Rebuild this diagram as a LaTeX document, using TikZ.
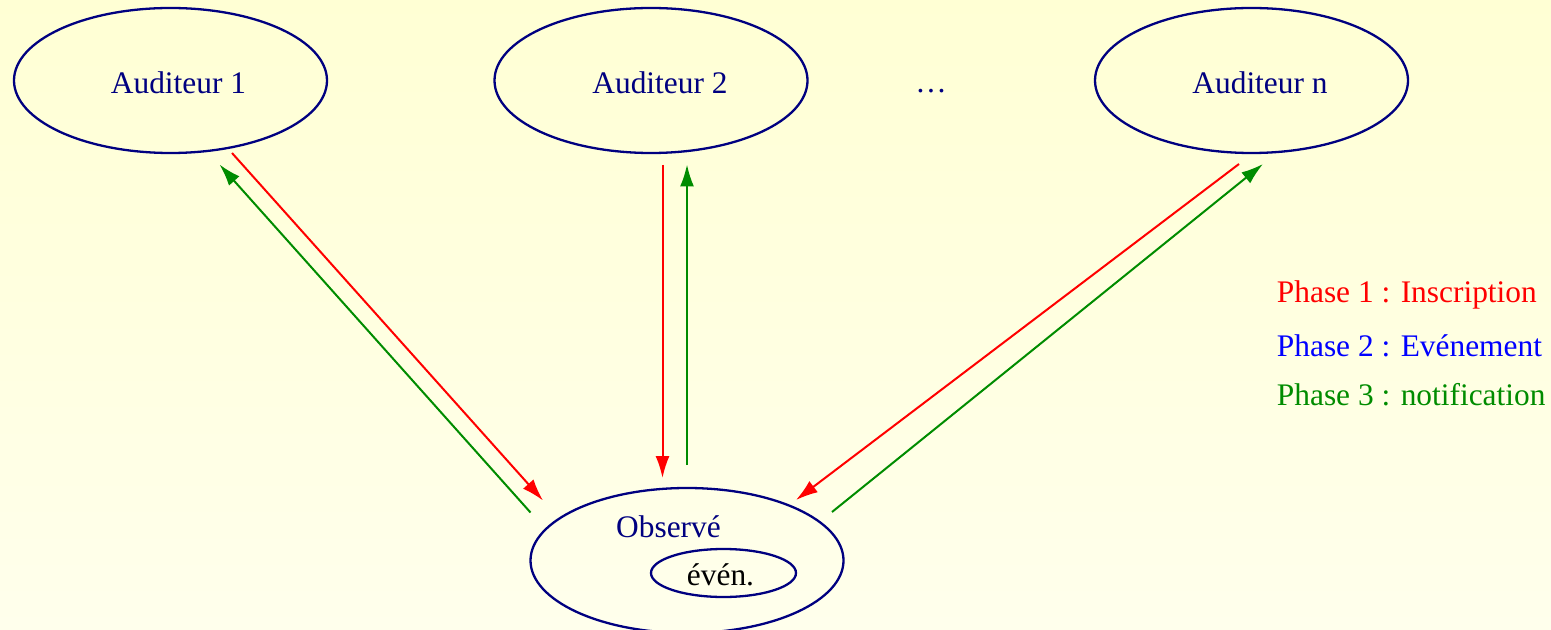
\documentclass[tikz,border=0pt]{standalone}
\usepackage{fontspec}
\setmainfont{Liberation Serif}
\usetikzlibrary{shapes.geometric,arrows.meta}
\definecolor{navyink}{RGB}{0,0,128}
\definecolor{phasered}{RGB}{255,0,0}
\definecolor{phaseblue}{RGB}{0,0,255}
\definecolor{phasegreen}{RGB}{0,140,0}
\definecolor{bgtop}{RGB}{255,255,212}
\definecolor{bgbottom}{RGB}{255,255,236}
\begin{document}
\begin{tikzpicture}[x=0.5pt,y=-0.5pt,
  font=\fontsize{15.7}{19}\selectfont,
  actor/.style={ellipse, draw=navyink, line width=1.15pt,
    minimum width=156.5pt, minimum height=72.5pt, inner sep=0pt},
  inner/.style={ellipse, draw=navyink, line width=1.15pt,
    minimum width=72.5pt, minimum height=24pt, inner sep=0pt},
  caption/.style={anchor=base, inner sep=0pt, text=navyink},
  flow/.style={line width=1pt, -{Latex[length=11pt,width=7pt]}},
  reg/.style={flow, draw=phasered, color=phasered},
  notif/.style={flow, draw=phasegreen, color=phasegreen},
  legend/.style={anchor=base west, inner sep=0pt}]

% backdrop
\useasboundingbox (0,0) rectangle (1551,630);
\shade[top color=bgtop, bottom color=bgbottom] (0,0) rectangle (1551,630);

% listeners
\node[actor] (a1) at (170.5,80.5) {};
\node[actor] (a2) at (651,80.5) {};
\node[actor] (an) at (1251.5,80.5) {};
\node[caption] (a1t) at ([shift={(8,13)}]a1.center) {Auditeur 1};
\node[caption] (a2t) at ([shift={(9,13)}]a2.center) {Auditeur 2};
\node[caption] (ant) at ([shift={(8.5,13)}]an.center) {Auditeur n};
\node[caption] (dots) at (931,92.5) {…};

% observed object and its event
\node[actor] (obs) at (687,560.5) {};
\node[caption] (obst) at (668.5,537) {Observé};
\node[inner] (ev) at (723.5,573) {};
\node[caption, text=black] (evt) at ([shift={(-3,12)}]ev.center) {évén.};

% phase 1: registration (red), phase 3: notification (green)
\draw[reg]   ([shift={(61.5,72.5)}]a1.center)  -- ([shift={(-144,-60)}]obs.center);
\draw[notif] ([shift={(-156.5,-48)}]obs.center) -- ([shift={(49,84)}]a1.center);

\draw[reg]   ([shift={(11.5,84.5)}]a2.center)  -- ([shift={(-24.5,-82.5)}]obs.center);
\draw[notif] ([shift={(0,-95.5)}]obs.center)   -- ([shift={(36,84)}]a2.center);

\draw[reg]   ([shift={(-12.5,83.5)}]an.center) -- ([shift={(109,-60.5)}]obs.center);
\draw[notif] ([shift={(145,-48.5)}]obs.center)  -- ([shift={(11.5,83.5)}]an.center);

% legend
\node[legend, text=phasered]   (l1) at (1276.5,302.7) {Phase 1 : Inscription};
\node[legend, text=phaseblue]  (l2) at (1276.5,356.7) {Phase 2 : Evénement};
\node[legend, text=phasegreen] (l3) at (1276.5,405.7) {Phase 3 : notification};
\end{tikzpicture}
\end{document}
